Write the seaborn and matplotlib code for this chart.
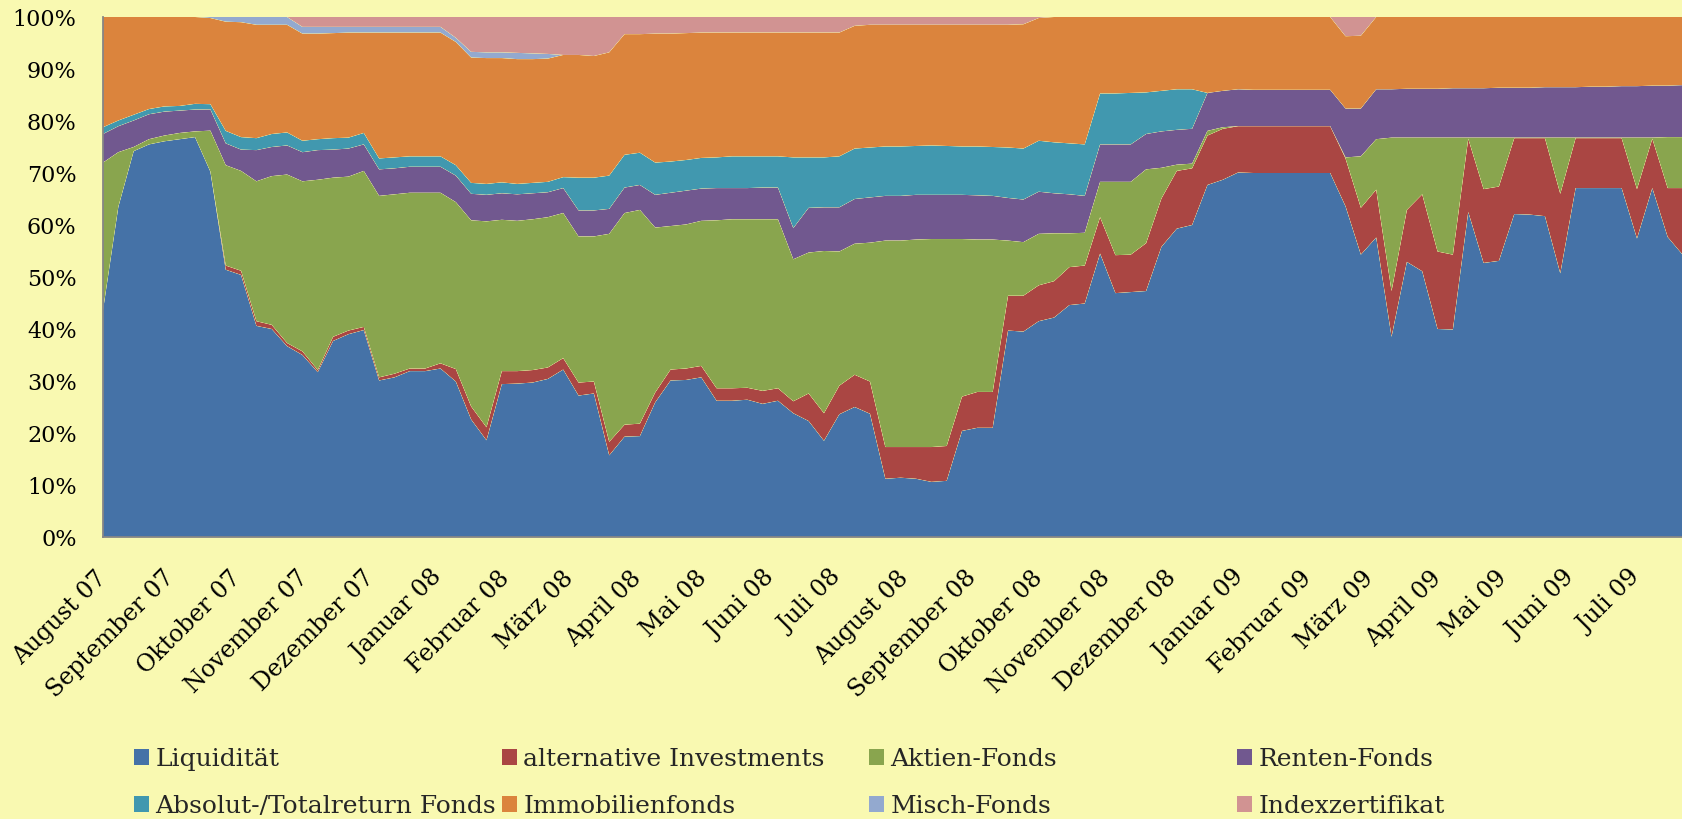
import numpy as np
import pandas as pd
import matplotlib
matplotlib.use("Agg")
import matplotlib.pyplot as plt
import matplotlib.dates as mdates
from matplotlib.patches import Patch
import seaborn as sns
import seaborn.objects as so

# ---------------- data (weekly shares in %) ----------------
series_names = ["Liquidität", "alternative Investments", "Aktien-Fonds", "Renten-Fonds",
                "Absolut-/Totalreturn Fonds", "Immobilienfonds", "Misch-Fonds", "Indexzertifikat"]
series_colors = ["#4572A7", "#AA4643", "#89A54E", "#71588F",
                 "#4198AF", "#DB843D", "#93A9CF", "#D19392"]

liquiditaet = [43.6, 63.5, 74.2, 75.5, 76.1, 76.5, 76.9, 70.4, 51.4, 50.4,
               40.6, 40.0, 36.7, 35.0, 31.7, 37.7, 39.0, 39.8, 30.1, 30.7,
               31.9, 31.9, 32.4, 29.9, 22.6, 18.6, 29.4, 29.5, 29.7, 30.4,
               32.2, 27.2, 27.6, 15.7, 19.3, 19.4, 25.9, 30.1, 30.2, 30.7,
               26.2, 26.2, 26.4, 25.6, 26.2, 23.8, 22.3, 18.5, 23.6, 25.0,
               23.7, 11.2, 11.4, 11.2, 10.6, 10.8, 20.4, 21.0, 21.0, 39.7,
               39.5, 41.5, 42.2, 44.6, 44.9, 54.5, 46.9, 47.1, 47.3, 55.8,
               59.3, 60.0, 67.7, 68.7, 70.1, 70.0, 70.0, 70.0, 70.0, 70.0,
               70.0, 63.6, 54.3, 57.6, 38.5, 52.9, 51.1, 40.0, 39.9, 62.5,
               52.7, 53.1, 62.1, 62.0, 61.7, 50.7, 67.1, 67.1, 67.1, 67.1,
               57.4, 67.1, 57.7, 54.2]
alternative = [0, 0, 0, 0, 0, 0, 0, 0, 0.8, 0.8,
               0.9, 0.8, 0.6, 0.7, 0.4, 0.8, 0.7, 0.6, 0.6, 0.7,
               0.5, 0.5, 1.0, 2.4, 2.5, 2.5, 2.5, 2.4, 2.4, 2.2,
               2.2, 2.5, 2.3, 2.6, 2.3, 2.4, 1.9, 2.1, 2.2, 2.2,
               2.4, 2.4, 2.3, 2.5, 2.4, 2.3, 5.3, 5.3, 5.5, 6.2,
               6.2, 6.1, 5.9, 6.1, 6.7, 6.7, 6.6, 6.9, 6.9, 6.7,
               6.9, 6.9, 7.0, 7.3, 7.3, 7.0, 7.3, 7.2, 9.2, 9.3,
               11.1, 10.9, 9.5, 9.8, 8.9, 9.0, 9.0, 9.0, 9.0, 9.0,
               9.0, 9.2, 9.0, 9.2, 8.8, 10.0, 14.8, 14.9, 14.4, 14.1,
               14.2, 14.3, 14.6, 14.7, 15.0, 15.3, 9.6, 9.6, 9.6, 9.6,
               9.5, 9.5, 9.4, 12.9]
aktien = [28.4, 10.5, 0.8, 1.0, 1.1, 1.2, 1.1, 7.9, 19.3, 19.2,
          26.9, 28.6, 32.4, 32.7, 36.6, 30.6, 29.6, 30.0, 34.9, 34.5,
          33.8, 33.8, 32.8, 32.1, 35.8, 39.6, 29.1, 28.9, 29.0, 28.9,
          27.9, 28.1, 27.9, 40.0, 40.7, 41.1, 31.7, 27.6, 27.7, 27.9,
          32.3, 32.5, 32.4, 33.0, 32.5, 27.3, 27.1, 31.2, 25.8, 25.2,
          26.7, 39.7, 39.7, 39.9, 40.0, 39.8, 30.3, 29.3, 29.3, 10.6,
          10.3, 9.9, 9.2, 6.5, 6.3, 6.8, 14.1, 14.0, 14.2, 5.9,
          1.2, 0.9, 0.9, 0.3, 0, 0, 0, 0, 0, 0,
          0, 0.2, 9.9, 9.7, 29.5, 13.9, 10.9, 21.9, 22.5, 0.2,
          9.9, 9.4, 0.1, 0.1, 0.1, 10.8, 0.1, 0.1, 0.1, 0.1,
          9.9, 0.2, 9.8, 9.8]
renten = [5.5, 5.0, 5.1, 4.8, 4.6, 4.3, 4.2, 4.1, 4.2, 4.1,
          6.0, 5.6, 5.6, 5.6, 5.7, 5.4, 5.4, 5.1, 5.1, 5.0,
          5.0, 5.0, 5.0, 5.1, 5.1, 5.1, 5.1, 5.1, 5.0, 4.8,
          4.8, 5.0, 5.0, 4.8, 4.9, 4.8, 6.3, 6.4, 6.5, 6.2,
          6.2, 6.0, 6.0, 6.1, 6.1, 6.0, 8.6, 8.4, 8.5, 8.6,
          8.7, 8.6, 8.6, 8.6, 8.5, 8.5, 8.5, 8.5, 8.4, 8.2,
          8.2, 8.1, 7.7, 7.5, 7.1, 7.2, 7.2, 7.2, 6.8, 7.0,
          6.7, 6.7, 7.3, 7.0, 7.1, 7.0, 7.0, 7.0, 7.0, 7.0,
          7.0, 9.4, 9.2, 9.6, 9.3, 9.4, 9.4, 9.4, 9.5, 9.5,
          9.5, 9.6, 9.6, 9.6, 9.7, 9.7, 9.7, 9.8, 9.8, 9.9,
          9.9, 10.0, 9.9, 10.0]
absolut = [1.3, 1.1, 1.1, 1.0, 1.0, 0.9, 1.1, 1.0, 2.4, 2.4,
           2.3, 2.5, 2.5, 2.2, 2.1, 2.2, 2.1, 2.2, 2.1, 2.1,
           2.0, 2.0, 2.0, 2.0, 2.1, 2.1, 2.1, 2.0, 2.0, 2.0,
           2.1, 6.3, 6.3, 6.4, 6.3, 6.2, 6.2, 6.0, 5.9, 5.9,
           5.9, 6.1, 6.1, 6.0, 6.0, 13.6, 9.7, 9.6, 9.8, 9.7,
           9.6, 9.5, 9.5, 9.4, 9.5, 9.4, 9.3, 9.4, 9.4, 9.7,
           9.8, 9.8, 9.8, 9.8, 9.9, 9.8, 9.8, 9.9, 8.0, 7.8,
           7.8, 7.6, 0, 0, 0, 0, 0, 0, 0, 0,
           0, 0, 0, 0, 0, 0, 0, 0, 0, 0,
           0, 0, 0, 0, 0, 0, 0, 0, 0, 0,
           0, 0, 0, 0]
immobilien = [21.2, 19.9, 18.8, 17.7, 17.2, 17.1, 16.7, 16.6, 21.0, 22.1,
              21.8, 21.0, 20.7, 20.6, 20.3, 20.2, 20.2, 19.3, 24.2, 24.0,
              23.8, 23.8, 23.8, 23.7, 24.1, 24.2, 23.9, 24.0, 23.8, 23.7,
              23.5, 23.6, 23.4, 23.7, 23.2, 22.8, 24.8, 24.6, 24.4, 24.1,
              24.0, 23.8, 23.8, 23.8, 23.8, 24.0, 24.0, 24.0, 23.8, 23.6,
              23.6, 23.4, 23.4, 23.3, 23.2, 23.3, 23.4, 23.4, 23.5, 23.6,
              23.9, 23.6, 24.1, 24.3, 24.5, 14.7, 14.7, 14.6, 14.5, 14.2,
              13.9, 13.9, 14.6, 14.2, 13.9, 14.0, 14.0, 14.0, 14.0, 14.0,
              14.0, 13.9, 14.0, 13.9, 13.9, 13.8, 13.8, 13.8, 13.7, 13.7,
              13.7, 13.6, 13.6, 13.6, 13.5, 13.5, 13.5, 13.4, 13.4, 13.3,
              13.3, 13.2, 13.2, 13.1]
misch = [0, 0, 0, 0, 0, 0, 0, 0.2, 0.9, 1.0,
         1.5, 1.5, 1.5, 1.3, 1.3, 1.2, 1.1, 1.1, 1.1, 1.1,
         1.1, 1.1, 1.1, 0.8, 1.1, 1.1, 1.1, 1.2, 1.1, 0.9,
         0, 0, 0, 0, 0, 0, 0, 0, 0, 0,
         0, 0, 0, 0, 0, 0, 0, 0, 0, 0,
         0, 0, 0, 0, 0, 0, 0, 0, 0, 0,
         0, 0, 0, 0, 0, 0, 0, 0, 0, 0,
         0, 0, 0, 0, 0, 0, 0, 0, 0, 0,
         0, 0, 0, 0, 0, 0, 0, 0, 0, 0,
         0, 0, 0, 0, 0, 0, 0, 0, 0, 0,
         0, 0, 0, 0]
indexzertifikat = [0, 0, 0, 0, 0, 0, 0, 0, 0, 0,
                   0, 0, 0, 1.9, 1.9, 1.9, 1.9, 1.9, 1.9, 1.9,
                   1.9, 1.9, 1.9, 4.0, 6.7, 6.8, 6.8, 6.9, 7.0, 7.1,
                   7.3, 7.3, 7.5, 6.8, 3.3, 3.3, 3.2, 3.2, 3.1, 3.0,
                   3.0, 3.0, 3.0, 3.0, 3.0, 3.0, 3.0, 3.0, 3.0, 1.7,
                   1.5, 1.5, 1.5, 1.5, 1.5, 1.5, 1.5, 1.5, 1.5, 1.5,
                   1.4, 0.2, 0, 0, 0, 0, 0, 0, 0, 0,
                   0, 0, 0, 0, 0, 0, 0, 0, 0, 0,
                   0, 3.7, 3.6, 0, 0, 0, 0, 0, 0, 0,
                   0, 0, 0, 0, 0, 0, 0, 0, 0, 0,
                   0, 0, 0, 0]

month_labels = ["August 07", "September 07", "Oktober 07", "November 07", "Dezember 07",
                "Januar 08", "Februar 08", "März 08", "April 08", "Mai 08", "Juni 08",
                "Juli 08", "August 08", "September 08", "Oktober 08", "November 08",
                "Dezember 08", "Januar 09", "Februar 09", "März 09", "April 09",
                "Mai 09", "Juni 09", "Juli 09"]

dates = pd.date_range("2007-08-01", periods=len(liquiditaet), freq="7D")
month_ticks = pd.date_range("2007-08-01", periods=len(month_labels), freq="MS")

wide = pd.DataFrame({"Datum": dates})
for name, vals in zip(series_names, [liquiditaet, alternative, aktien, renten,
                                     absolut, immobilien, misch, indexzertifikat]):
    wide[name] = vals
long = wide.melt(id_vars="Datum", var_name="Anlageklasse", value_name="Anteil")
# 100 % stacked: normalise every date to a total of 100
long["Anteil"] = long["Anteil"] / long.groupby("Datum")["Anteil"].transform("sum") * 100

# ---------------- styling ----------------
BG = "#F9F9B1"
AXC = "#868686"
sns.set_theme(style="white")
plt.rcParams["font.family"] = ["DejaVu Serif"]

W, H = 1683, 819
fig = plt.figure(figsize=(W / 100, H / 100), dpi=100, facecolor=BG)
ax = fig.add_axes([103 / W, 1 - 537 / H, (W - 103) / W, (537 - 17) / H])
ax.set_facecolor(BG)

palette = dict(zip(series_names, series_colors))
(
    so.Plot(long, x="Datum", y="Anteil", color="Anlageklasse")
    .add(so.Area(alpha=1, edgewidth=0), so.Stack())
    .scale(color=so.Nominal(palette, order=series_names))
    .on(ax)
    .plot()
)
fig.legends.clear()

ax.set_facecolor(BG)
ax.grid(False)
ax.set_xlabel("")
ax.set_ylabel("")
ax.set_xlim(mdates.date2num(dates[0]), mdates.date2num(dates[-1]))
ax.set_ylim(0, 100)

yt = list(range(0, 101, 10))
ax.set_yticks(yt)
ax.set_yticklabels([f"{v}%" for v in yt], fontsize=16)
ax.set_xticks(mdates.date2num(month_ticks))
ax.set_xticklabels(month_labels, fontsize=17, rotation=45, ha="right",
                   rotation_mode="anchor", va="center")
ax.tick_params(axis="both", direction="out", length=6, width=1.3, color=AXC,
               labelcolor="black")
ax.tick_params(axis="x", pad=21)
ax.tick_params(axis="y", pad=13)
for s in ["top", "right"]:
    ax.spines[s].set_visible(False)
for s in ["left", "bottom"]:
    ax.spines[s].set_visible(True)
    ax.spines[s].set_color(AXC)
    ax.spines[s].set_linewidth(1.3)

# legend: 4 columns x 2 rows, equally spaced like the original
col_x = [134, 502, 869, 1237]
for c in range(4):
    idx = [c, c + 4]
    handles = [Patch(facecolor=series_colors[i], edgecolor="none") for i in idx]
    fig.legend(handles, [series_names[i] for i in idx], loc="upper left",
               bbox_to_anchor=(col_x[c] / W, 1 - 748 / H), frameon=False,
               fontsize=18, handlelength=0.6, handleheight=0.6,
               handletextpad=0.25, labelspacing=0.95, borderpad=0,
               borderaxespad=0)

fig.savefig("out.png", dpi=100, facecolor=BG)
